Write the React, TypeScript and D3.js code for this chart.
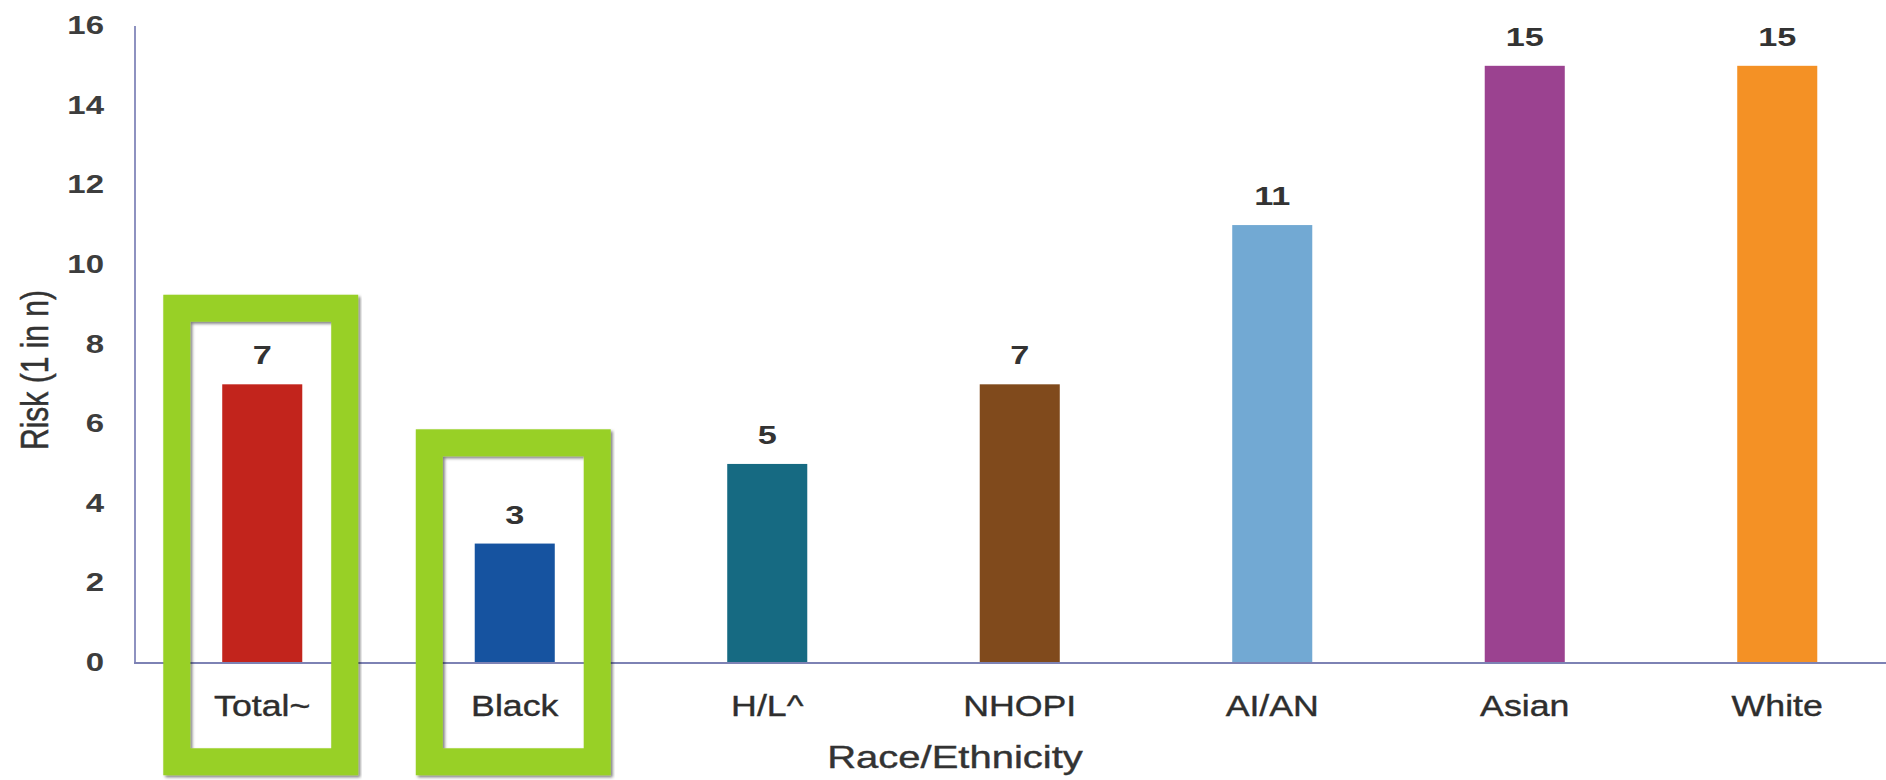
import React from "react";
import * as d3 from "d3";

const categories = ["Total~", "Black", "H/L^", "NHOPI", "AI/AN", "Asian", "White"];
const values = [7, 3, 5, 7, 11, 15, 15];
const barColors = ["#c2241c", "#1653a0", "#166a82", "#804a1c", "#72a9d3", "#9b4290", "#f49125"];
const yTicks = [0, 2, 4, 6, 8, 10, 12, 14, 16];
const highlighted = ["Total~", "Black"];
const highlightTop = [9.25, 5.87];
const highlightBottom = -2.82;

const W = 1886;
const H = 780;
const FONT = "'Liberation Sans', Arial, Helvetica, sans-serif";

export default function App() {
  const x = d3
    .scaleBand<string>()
    .domain(categories)
    .range([136, 136 + 7 * 252.5])
    .paddingInner(0.683)
    .paddingOuter(0.3415);
  const y = d3.scaleLinear().domain([0, 16]).range([663, 26]);
  const step = x.step();
  const boxW = step * 0.772;
  const bw = 27;

  return (
    <svg
      width={W}
      height={H}
      style={{ position: "absolute", left: 0, top: 0, display: "block", background: "#fff" }}
      fontFamily={FONT}
    >
      <defs>
        <filter id="shadow" x="-10%" y="-10%" width="120%" height="120%">
          <feDropShadow dx="2" dy="2" stdDeviation="1.5" floodColor="#000" floodOpacity="0.5" />
        </filter>
      </defs>
      <rect x={0} y={0} width={W} height={H} fill="#fff" />

      {/* bars */}
      {categories.map((c, i) => (
        <rect
          key={c}
          x={x(c)!}
          y={y(values[i])}
          width={x.bandwidth()}
          height={y(0) - y(values[i])}
          fill={barColors[i]}
        />
      ))}

      {/* axes */}
      <line x1={135} x2={135} y1={y(16)} y2={y(0)} stroke="#8e92c0" strokeWidth={2} />
      <line x1={134} x2={W} y1={y(0)} y2={y(0)} stroke="#7d82b4" strokeWidth={2} />

      {/* y tick labels */}
      {yTicks.map((t) => (
        <text
          key={t}
          transform={`translate(104, ${y(t) + 8}) scale(1.32, 1)`}
          textAnchor="end"
          fontSize={25}
          fontWeight="bold"
          fill="#3d3d3d"
        >
          {t}
        </text>
      ))}

      {/* value labels */}
      {categories.map((c, i) => (
        <text
          key={c}
          transform={`translate(${x(c)! + x.bandwidth() / 2}, ${y(values[i]) - 20}) scale(1.37, 1)`}
          textAnchor="middle"
          fontSize={25}
          fontWeight="bold"
          fill="#333"
        >
          {values[i]}
        </text>
      ))}

      {/* category labels */}
      {categories.map((c) => (
        <text
          key={c}
          transform={`translate(${x(c)! + x.bandwidth() / 2}, 716) scale(1.19, 1)`}
          textAnchor="middle"
          fontSize={30}
          fill="#2e2e2e"
          stroke="#2e2e2e"
          strokeWidth={0.4}
        >
          {c}
        </text>
      ))}

      {/* axis titles */}
      <text
        transform={`translate(955, 768) scale(1.25, 1)`}
        textAnchor="middle"
        fontSize={32}
        fill="#333"
        stroke="#333"
        strokeWidth={0.4}
      >
        Race/Ethnicity
      </text>
      <text
        transform={`translate(48, 370) rotate(-90) scale(1, 1.3)`}
        textAnchor="middle"
        fontSize={30}
        fill="#333"
        stroke="#333"
        strokeWidth={0.4}
      >
        Risk (1 in n)
      </text>

      {/* highlight boxes */}
      {highlighted.map((c, i) => {
        const cx = x(c)! + x.bandwidth() / 2 - 1.5;
        const top = y(highlightTop[i]);
        const bottom = y(highlightBottom);
        return (
          <rect
            key={c}
            x={cx - boxW / 2 + bw / 2}
            y={top + bw / 2}
            width={boxW - bw}
            height={bottom - top - bw}
            fill="none"
            stroke="#98d026"
            strokeWidth={bw}
            filter="url(#shadow)"
          />
        );
      })}
    </svg>
  );
}
